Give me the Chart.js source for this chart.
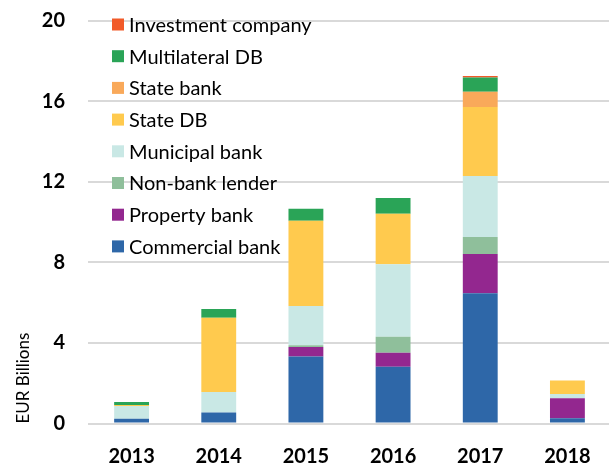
<!DOCTYPE html>
<html>
<head>
<meta charset="utf-8">
<script src="https://cdn.jsdelivr.net/npm/chart.js@4"></script>
<style>
  html, body { margin: 0; padding: 0; background: #fff; overflow: hidden; }
  #wrap { width: 611px; height: 464px; position: relative; }
</style>
</head>
<body>
<div id="wrap"><canvas id="chart"></canvas></div>
<script>
'use strict';

// ── DATA ───────────────────────────────────────────────────────────────────
const YEARS = ['2013', '2014', '2015', '2016', '2017', '2018'];

const commercialBank  = [0.24, 0.54, 3.32, 2.82, 6.46, 0.26];
const propertyBank    = [0, 0, 0.48, 0.69, 1.95, 0.99];
const nonBankLender   = [0, 0, 0.08, 0.80, 0.85, 0];
const municipalBank   = [0.63, 1.02, 1.95, 3.59, 3.02, 0.21];
const stateDB         = [0.05, 3.69, 4.23, 2.51, 3.43, 0.68];
const stateBank       = [0, 0, 0, 0, 0.76, 0];
const multilateralDB  = [0.15, 0.43, 0.60, 0.78, 0.70, 0];
const investmentCo    = [0, 0, 0, 0, 0.07, 0];

const Y_TICKS = [0, 4, 8, 12, 16, 20];

// bottom -> top
const SERIES = [
  { label: 'Commercial bank',    data: commercialBank, color: '#2E67A8' },
  { label: 'Property bank',      data: propertyBank,   color: '#93278F' },
  { label: 'Non-bank lender',    data: nonBankLender,  color: '#8FBF9B' },
  { label: 'Municipal bank',     data: municipalBank,  color: '#C9E8E5' },
  { label: 'State DB',           data: stateDB,        color: '#FFCA4E' },
  { label: 'State bank',         data: stateBank,      color: '#F9A95A' },
  { label: 'Multilateral DB',    data: multilateralDB, color: '#2AA457' },
  { label: 'Investment company', data: investmentCo,   color: '#F15A29' }
];

const FONT = 'Lato, "Open Sans", sans-serif';

// ── LEGEND (drawn inside the plot, top-left, reversed order) ───────────────
const insideLegend = {
  id: 'insideLegend',
  afterDraw(chart) {
    const ctx = chart.ctx;
    const ds = chart.data.datasets.slice().reverse();
    ctx.save();
    ctx.font = '20px ' + FONT;
    ctx.textBaseline = 'middle';
    ds.forEach((d, i) => {
      const y = 24.5 + i * 31.7;
      ctx.fillStyle = d.backgroundColor;
      ctx.fillRect(112, y - 6, 12, 12);
      ctx.fillStyle = '#000';
      ctx.fillText(d.label, 129, y + 1);
    });
    ctx.restore();
  }
};

// ── CHART ──────────────────────────────────────────────────────────────────
new Chart(document.getElementById('chart'), {
  type: 'bar',
  data: {
    labels: YEARS,
    datasets: SERIES.map(s => ({
      label: s.label,
      data: s.data,
      backgroundColor: s.color,
      borderWidth: 0,
      categoryPercentage: 1,
      barPercentage: 0.4
    }))
  },
  plugins: [insideLegend],
  options: {
    responsive: true,
    maintainAspectRatio: false,
    animation: false,
    devicePixelRatio: 1,
    layout: { padding: 0 },
    plugins: {
      legend: { display: false },
      tooltip: { enabled: false }
    },
    scales: {
      x: {
        stacked: true,
        grid: { display: false },
        border: { display: false },
        ticks: {
          color: '#000',
          font: { family: FONT, size: 20, weight: 'bold' },
          padding: 13,
          maxRotation: 0
        },
        afterFit: s => { s.height = 40.5; }
      },
      y: {
        stacked: true,
        min: 0,
        max: 20,
        afterBuildTicks: s => { s.ticks = Y_TICKS.map(v => ({ value: v })); },
        grid: { color: '#D9D9D9', lineWidth: 2, drawTicks: false },
        border: { display: false },
        ticks: {
          color: '#000',
          font: { family: FONT, size: 20, weight: 'bold' },
          padding: 23
        },
        title: {
          display: true,
          text: 'EUR Billions',
          align: 'start',
          color: '#000',
          font: { family: FONT, size: 17 },
          padding: { top: 13, bottom: 0 }
        },
        afterFit: s => {
          s.width = 88;
          s.paddingTop = 20.5;
          s.paddingBottom = 12;
        }
      }
    }
  }
});
</script>
</body>
</html>
